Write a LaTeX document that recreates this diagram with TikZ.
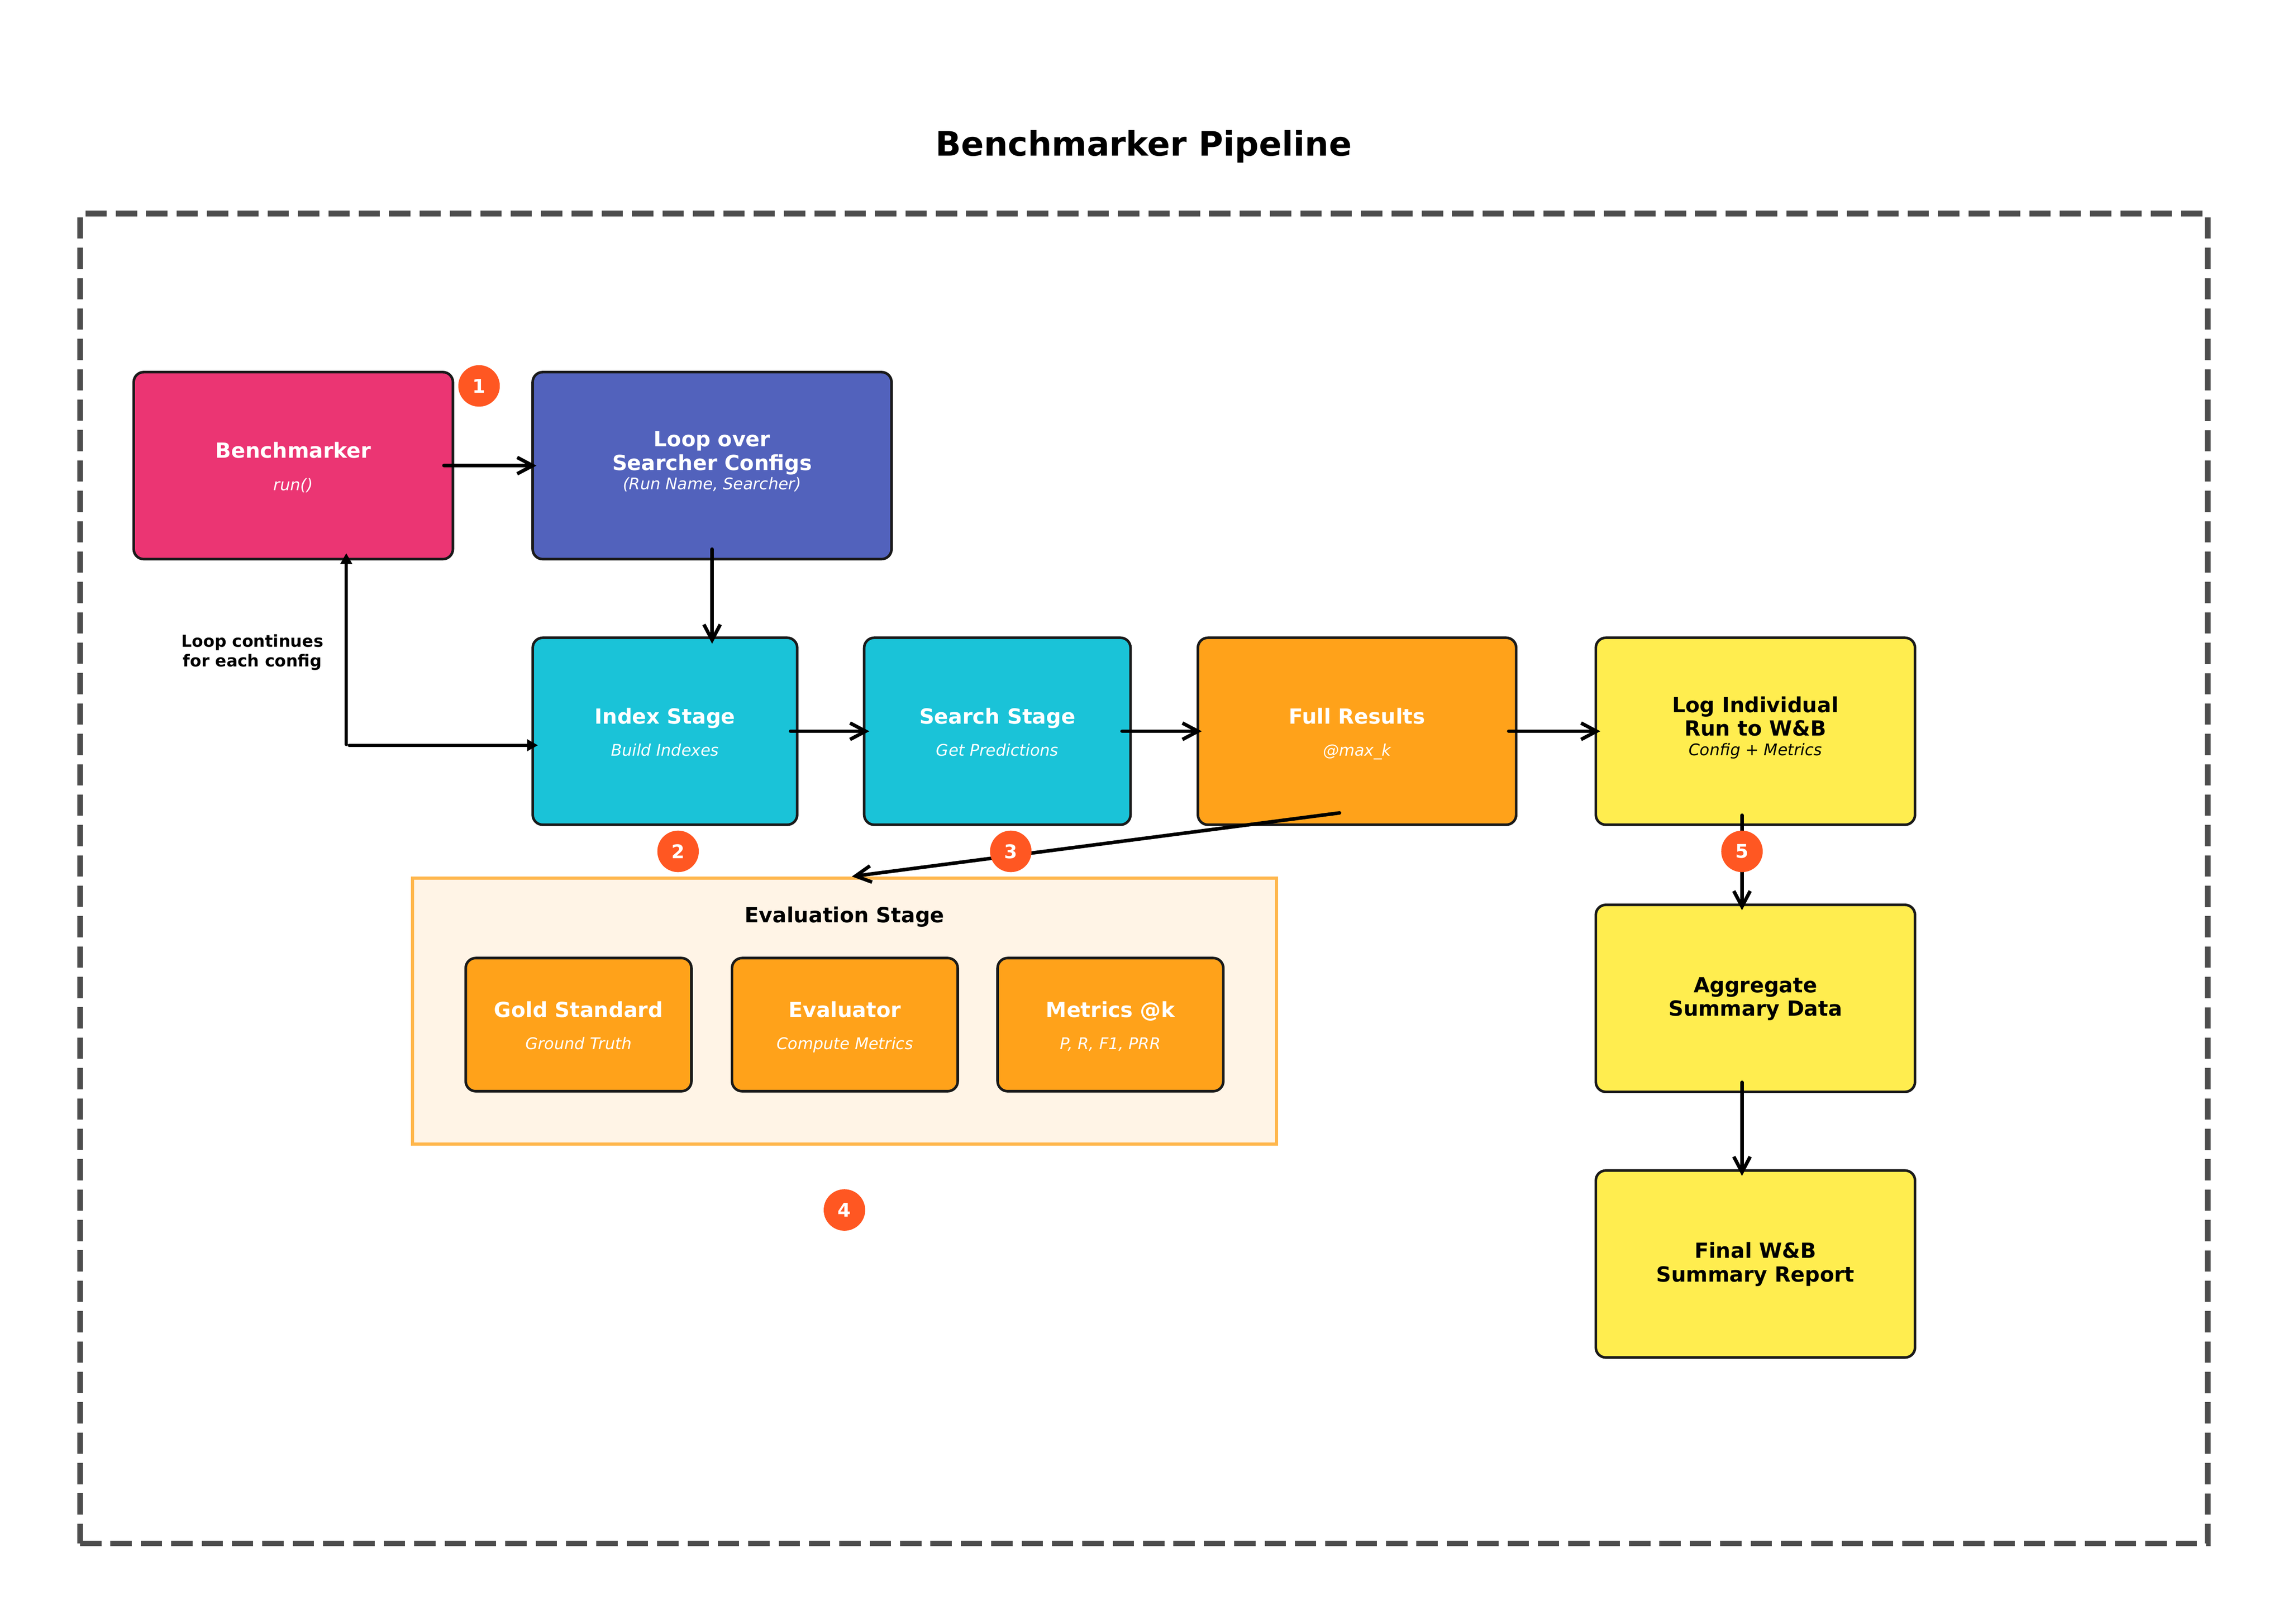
\documentclass[tikz,border=0pt]{standalone}
\usepackage{fontspec}
\setmainfont{DejaVu Sans}
\usetikzlibrary{arrows.meta,calc}

\definecolor{benchpink}{HTML}{EB3573}
\definecolor{loopblue}{HTML}{5262BC}
\definecolor{stagecyan}{HTML}{1AC3D8}
\definecolor{resorange}{HTML}{FFA21A}
\definecolor{logyellow}{HTML}{FFED4F}
\definecolor{badgered}{HTML}{FF5722}
\definecolor{evalfill}{HTML}{FFF4E6}
\definecolor{evaledge}{HTML}{FFB74D}
\definecolor{boxedge}{HTML}{1A1A1A}
\definecolor{framegray}{HTML}{4D4D4D}

\tikzset{
  stage/.style={draw=boxedge, line width=1.6pt, rounded corners=0.22cm, inner sep=0pt},
  ttl/.style={font=\fontsize{13}{14.7}\selectfont\bfseries, align=center, anchor=base},
  sub/.style={font=\fontsize{10}{12}\selectfont\itshape, anchor=base},
  flow/.style={line width=2.2pt, line cap=round, line join=round, -{Straight Barb[length=3.4mm,width=3.6mm]}},
  back/.style={line width=2.1pt, line cap=round, -{Triangle[length=2.4mm,width=2.5mm]}},
  badge/.style={circle, fill=badgered, minimum size=0.91cm, inner sep=0pt, text=white, font=\fontsize{11.8}{12}\selectfont\bfseries},
}

\begin{document}
\begin{tikzpicture}[x=0.032cm, y=-0.032cm]
        \useasboundingbox (0,0) rectangle (1568,1112.4);
        % Draw the title and the dashed frame
        \node[font=\fontsize{21}{25}\selectfont\bfseries, anchor=base] (title) at (783.7,106.7) {Benchmarker Pipeline};
        \draw[framegray, line width=3.6pt, dash pattern=on 0.466cm off 0.2cm] (54.9,1057.5) -- (1512.9,1057.5) -- (1512.9,146.3) -- (54.9,146.3) -- cycle;

        % Draw the top row
        \node[stage, fill=benchpink, minimum width=7.00cm, minimum height=4.10cm] (bench) at (201,319) {};
        \node[ttl, text=white] (benchT) at ($(bench.center)+(0,-5.1)$) {Benchmarker};
        \node[sub, text=white] (benchS) at ($(bench.center)+(0,17)$) {run()};
        \node[stage, fill=loopblue, minimum width=7.87cm, minimum height=4.10cm] (loop) at (488,319) {};
        \node[ttl, text=white] (loopT) at ($(loop.center)+(0,3.2)$) {Loop over\\Searcher Configs};
        \node[sub, text=white] (loopS) at ($(loop.center)+(0,16.5)$) {(Run Name, Searcher)};

        % Draw the stage row
        \node[stage, fill=stagecyan, minimum width=5.80cm, minimum height=4.10cm] (index) at (455.7,501) {};
        \node[ttl, text=white] (indexT) at ($(index.center)+(0,-5.1)$) {Index Stage};
        \node[sub, text=white] (indexS) at ($(index.center)+(0,17)$) {Build Indexes};
        \node[stage, fill=stagecyan, minimum width=5.84cm, minimum height=4.10cm] (search) at (683.5,501) {};
        \node[ttl, text=white] (searchT) at ($(search.center)+(0,-5.1)$) {Search Stage};
        \node[sub, text=white] (searchS) at ($(search.center)+(0,17)$) {Get Predictions};
        \node[stage, fill=resorange, minimum width=6.98cm, minimum height=4.10cm] (full) at (930,501) {};
        \node[ttl, text=white] (fullT) at ($(full.center)+(0,-5.1)$) {Full Results};
        \node[sub, text=white] (fullS) at ($(full.center)+(0,17)$) {@max\_k};
        \node[stage, fill=logyellow, minimum width=7.00cm, minimum height=4.10cm] (log) at (1203,501) {};
        \node[ttl] (logT) at ($(log.center)+(0,3.2)$) {Log Individual\\Run to W\&B};
        \node[sub] (logS) at ($(log.center)+(0,16.7)$) {Config + Metrics};

        % Draw the summary column
        \node[stage, fill=logyellow, minimum width=7.00cm, minimum height=4.10cm] (agg) at (1203,684) {};
        \node[ttl] (aggT) at ($(agg.center)+(0,12.1)$) {Aggregate\\Summary Data};
        \node[stage, fill=logyellow, minimum width=7.00cm, minimum height=4.10cm] (final) at (1203,866) {};
        \node[ttl] (finalT) at ($(final.center)+(0,12.1)$) {Final W\&B\\Summary Report};

        % Draw the evaluation group
        \node[draw=evaledge, fill=evalfill, line width=2pt, minimum width=18.95cm, minimum height=5.83cm, inner sep=0pt] (eval) at (578.8,692.7) {};
        \node[ttl] (evalT) at ($(eval.north)+(0,31.5)$) {Evaluation Stage};
        \node[stage, fill=resorange, minimum width=4.95cm, minimum height=2.92cm] (gold) at (396.5,702) {};
        \node[ttl, text=white] (goldT) at ($(gold.center)+(0,-5.1)$) {Gold Standard};
        \node[sub, text=white] (goldS) at ($(gold.center)+(0,17)$) {Ground Truth};
        \node[stage, fill=resorange, minimum width=4.95cm, minimum height=2.92cm] (evaluator) at (579,702) {};
        \node[ttl, text=white] (evaluatorT) at ($(evaluator.center)+(0,-5.1)$) {Evaluator};
        \node[sub, text=white] (evaluatorS) at ($(evaluator.center)+(0,17)$) {Compute Metrics};
        \node[stage, fill=resorange, minimum width=4.95cm, minimum height=2.92cm] (metrics) at (761,702) {};
        \node[ttl, text=white] (metricsT) at ($(metrics.center)+(0,-5.1)$) {Metrics @k};
        \node[sub, text=white] (metricsS) at ($(metrics.center)+(0,17)$) {P, R, F1, PRR};

        % Draw the flow arrows
        \draw[flow] ($(bench.east)+(-7,0)$) -- ($(loop.west)+(3.5,0)$);
        \draw[flow] ($(loop.south)+(0,-7.7)$) -- ($(loop.south |- index.north)+(0,5)$);
        \draw[flow] ($(index.east)+(-5.5,0)$) -- ($(search.west)+(4.4,0)$);
        \draw[flow] ($(search.east)+(-6.7,0)$) -- ($(full.west)+(3.5,0)$);
        \draw[flow] ($(full.east)+(-6,0)$) -- ($(log.west)+(4,0)$);
        \draw[flow] ($(full.south)+(-12,-9)$) -- ($(eval.north)+(5,0)$);
        \draw[flow] ($(log.south)+(-9.2,-7.4)$) -- ($(agg.north)+(-9.2,4.6)$);
        \draw[flow] ($(agg.south)+(-9.2,-7.4)$) -- ($(final.north)+(-9.2,4.6)$);

        % Draw the loop back to the benchmarker
        \coordinate (turn) at (237.3,510);
        \draw[back] (turn) -- ($(turn |- bench.south)+(0,-5)$);
        \draw[back] ($(turn)+(2,0.6)$) -- ($(index.west |- turn)+(4.5,0.6)$);
        \node[font=\fontsize{10.3}{12.1}\selectfont\bfseries, align=center, anchor=base] (looplbl) at (173,456.7) {Loop continues\\for each config};

        % Draw the step badges
        \foreach \n/\x/\y in {1/328.3/264.4, 2/464.7/583.3, 3/692.7/583.3, 4/578.7/829, 5/1193.8/583.3} {
            \node[badge] (b\n) at (\x,\y) {\n};
        }
\end{tikzpicture}
\end{document}
